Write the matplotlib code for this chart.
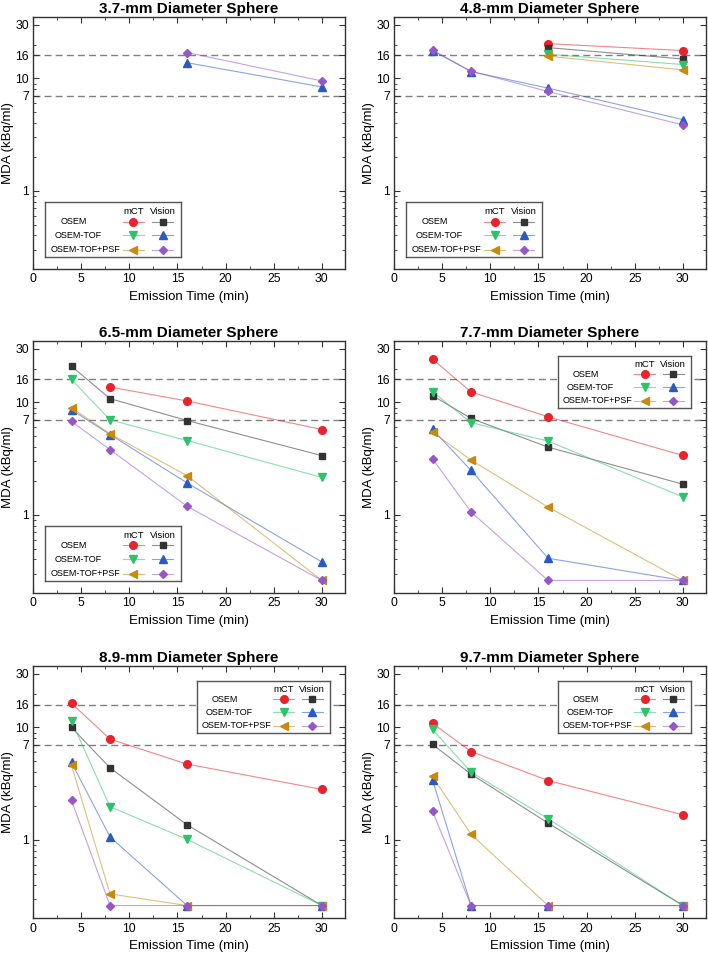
#!/usr/bin/env python3
"""MDA vs emission time for six sphere sizes"""

import numpy as np
import matplotlib
matplotlib.use("Agg")
import matplotlib.pyplot as plt
from matplotlib.ticker import FixedLocator, LogLocator, NullFormatter, MultipleLocator

plt.rcParams['font.family'] = ['Liberation Sans', 'DejaVu Sans']

nan = np.nan

# Emission times (min)
times = [4, 8, 16, 30]

titles = ["3.7-mm Diameter Sphere", "4.8-mm Diameter Sphere",
          "6.5-mm Diameter Sphere", "7.7-mm Diameter Sphere",
          "8.9-mm Diameter Sphere", "9.7-mm Diameter Sphere"]

# MDA (kBq/ml), one row per sphere, one column per emission time
mct_osem = [[nan, nan, nan, nan],
            [nan, nan, 20.4, 17.7],
            [nan, 13.7, 10.3, 5.74],
            [24.3, 12.4, 7.45, 3.37],
            [16.4, 7.87, 4.72, 2.81],
            [10.9, 6.1, 3.37, 1.67]]
vision_osem = [[nan, nan, nan, nan],
               [nan, nan, 18.8, 14.9],
               [21.0, 10.8, 6.9, 3.36],
               [11.5, 7.2, 4.0, 1.87],
               [10.0, 4.37, 1.36, 0.26],
               [7.06, 3.84, 1.41, 0.26]]
mct_tof = [[nan, nan, nan, nan],
           [nan, nan, 16.4, 13.3],
           [16.0, 7.0, 4.58, 2.15],
           [12.5, 6.6, 4.53, 1.44],
           [11.4, 1.97, 1.01, 0.26],
           [9.6, 4.0, 1.54, 0.26]]
vision_tof = [[nan, nan, 13.8, 8.4],
              [17.7, 11.5, 8.2, 4.3],
              [8.6, 5.18, 1.92, 0.38],
              [5.75, 2.48, 0.41, 0.26],
              [4.88, 1.06, 0.26, 0.26],
              [3.42, 0.26, 0.26, 0.26]]
mct_psf = [[nan, nan, nan, nan],
           [nan, nan, 15.8, 11.9],
           [8.96, 5.25, 2.23, 0.26],
           [5.44, 3.07, 1.17, 0.26],
           [4.59, 0.33, 0.26, 0.26],
           [3.66, 1.12, 0.26, 0.26]]
vision_psf = [[nan, nan, 17.0, 9.5],
              [17.9, 11.6, 7.65, 3.86],
              [6.77, 3.8, 1.19, 0.26],
              [3.15, 1.06, 0.26, 0.26],
              [2.24, 0.26, 0.26, 0.26],
              [1.8, 0.26, 0.26, 0.26]]

# Reference activity levels (kBq/ml)
ref_levels = [16, 7]
y_ticks = [1, 7, 10, 16, 30]

# series styling: (data, color, marker, size)
series = [
    (mct_osem, '#E8232B', 'o', 5.5),
    (vision_osem, '#333333', 's', 5),
    (mct_tof, '#2CC36B', 'v', 6),
    (vision_tof, '#2A5AC4', '^', 6),
    (mct_psf, '#C88A0E', '<', 6),
    (vision_psf, '#9656C8', 'D', 4.3),
]

row_names = ["OSEM", "OSEM-TOF", "OSEM-TOF+PSF"]


def draw_legend(ax, rect):
    """Two-column legend box (mCT / Vision) built in an inset axes"""
    lg = ax.inset_axes(rect)
    lg.set_xlim(0, 1)
    lg.set_ylim(0, 1)
    lg.set_xticks([])
    lg.set_yticks([])
    for s in lg.spines.values():
        s.set_color('#555555')
        s.set_linewidth(1.0)
    lg.text(0.65, 0.84, "mCT", ha='center', va='center', fontsize=6.8)
    lg.text(0.865, 0.84, "Vision", ha='center', va='center', fontsize=6.8)
    row_y = [0.65, 0.40, 0.14]
    row_x = [0.113, 0.064, 0.039]
    for i in range(3):
        lg.text(row_x[i], row_y[i], row_names[i], ha='left', va='center', fontsize=6.5)
        for j, cx in enumerate([0.65, 0.865]):
            _, color, marker, size = series[2 * i + j]
            lg.plot([cx - 0.08, cx, cx + 0.08], [row_y[i]] * 3, color=color,
                    lw=0.8, alpha=0.55)
            lg.plot([cx], [row_y[i]], marker=marker, color=color, ms=size,
                    mec=color, ls='none')


def draw_panel(ax, k):
    for level in ref_levels:
        ax.axhline(level, color='#808080', lw=1.0, ls=(0, (5, 3)), zorder=1)
    for data, color, marker, size in series:
        vals = np.array(data[k], dtype=float)
        ax.plot(times, vals, color=color, lw=0.8, alpha=0.55, zorder=2)
        ax.plot(times, vals, color=color, marker=marker, ms=size, ls='none', zorder=3)

    ax.set_yscale('log')
    ax.set_ylim(0.2, 35)
    ax.set_xlim(0, 32.4)
    ax.yaxis.set_major_locator(FixedLocator(y_ticks))
    ax.set_yticklabels([str(t) for t in y_ticks])
    ax.yaxis.set_minor_locator(LogLocator(base=10, subs=range(2, 10)))
    ax.yaxis.set_minor_formatter(NullFormatter())
    ax.xaxis.set_major_locator(MultipleLocator(5))
    ax.xaxis.set_minor_locator(MultipleLocator(2.5))
    ax.tick_params(which='both', direction='in', top=True, right=True,
                   labelsize=8.8, pad=3, color='#333333')
    ax.tick_params(which='major', length=4)
    ax.tick_params(which='minor', length=2)
    for s in ax.spines.values():
        s.set_linewidth(1.0)
        s.set_color('#333333')

    ax.set_title(titles[k], fontsize=11, fontweight='bold', pad=3)
    ax.set_xlabel("Emission Time (min)", fontsize=9.5, labelpad=4)
    ax.set_ylabel("MDA (kBq/ml)", fontsize=9.5, labelpad=1)

    if k < 3:
        draw_legend(ax, [0.04, 0.048, 0.434, 0.218])
    else:
        draw_legend(ax, [0.525, 0.735, 0.428, 0.208])


def main() -> None:
    fig = plt.figure(figsize=(7.08, 9.56), dpi=100)
    lefts = [0.0466, 0.5565]
    bottoms = [0.7183, 0.3794, 0.0394]
    for k in range(6):
        r, c = divmod(k, 2)
        ax = fig.add_axes([lefts[c], bottoms[r], 0.4407, 0.2636])
        draw_panel(ax, k)
    fig.savefig("out.png", dpi=100)


if __name__ == "__main__":
    main()
